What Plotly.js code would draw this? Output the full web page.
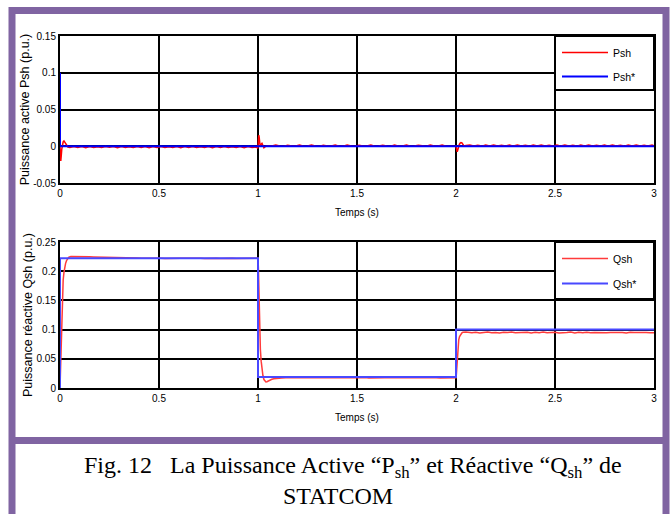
<!DOCTYPE html>
<html>
<head>
<meta charset="utf-8">
<script src="https://cdn.plot.ly/plotly-3.0.1.min.js"></script>
<style>
html,body{margin:0;padding:0;background:#fff;}
#chart{width:672px;height:514px;}
</style>
</head>
<body>
<div id="chart"></div>
<script>
// ---------- Data ----------
const xTickVals = [0, 0.5, 1, 1.5, 2, 2.5, 3];
const xTickText = ['0', '0.5', '1', '1.5', '2', '2.5', '3'];
const pTickVals = [-0.05, 0, 0.05, 0.1, 0.15];
const pTickText = ['-0.05', '0', '0.05', '0.1', '0.15'];
const qTickVals = [0, 0.05, 0.1, 0.15, 0.2, 0.25];
const qTickText = ['0', '0.05', '0.1', '0.15', '0.2', '0.25'];

// Psh* reference (blue)
const pshRefT = [0, 0, 3];
const pshRefV = [0.1, 0, 0];

// Psh measured (red)
const pshT = [
  0, 0.002, 0.004, 0.006, 0.009, 0.012, 0.016, 0.02, 0.025, 0.03, 0.035, 0.04,
  0.05, 0.07, 0.09, 0.11, 0.13, 0.15, 0.17, 0.19, 0.21, 0.23, 0.25, 0.27, 0.29, 0.31, 0.33, 0.35,
  0.37, 0.39, 0.41, 0.43, 0.45, 0.47, 0.49, 0.51, 0.53, 0.55, 0.57, 0.59, 0.61, 0.63, 0.65, 0.67,
  0.69, 0.71, 0.73, 0.75, 0.77, 0.79, 0.81, 0.83, 0.85, 0.87, 0.89, 0.91, 0.93, 0.95, 0.97, 0.99,
  0.995, 0.998, 1.0, 1.002, 1.004, 1.006, 1.009, 1.012, 1.016, 1.02, 1.025, 1.03, 1.035, 1.04, 1.05,
  1.07, 1.09, 1.11, 1.13, 1.15, 1.17, 1.19, 1.21, 1.23, 1.25, 1.27, 1.29, 1.31, 1.33, 1.35, 1.37,
  1.39, 1.41, 1.43, 1.45, 1.47, 1.49, 1.51, 1.53, 1.55, 1.57, 1.59, 1.61, 1.63, 1.65, 1.67, 1.69,
  1.71, 1.73, 1.75, 1.77, 1.79, 1.81, 1.83, 1.85, 1.87, 1.89, 1.91, 1.93, 1.95, 1.97, 1.99,
  1.995, 2.0, 2.003, 2.006, 2.009, 2.012, 2.016, 2.02, 2.025, 2.03, 2.035, 2.04, 2.05,
  2.07, 2.09, 2.11, 2.13, 2.15, 2.17, 2.19, 2.21, 2.23, 2.25, 2.27, 2.29, 2.31, 2.33, 2.35, 2.37,
  2.39, 2.41, 2.43, 2.45, 2.47, 2.49, 2.51, 2.53, 2.55, 2.57, 2.59, 2.61, 2.63, 2.65, 2.67, 2.69,
  2.71, 2.73, 2.75, 2.77, 2.79, 2.81, 2.83, 2.85, 2.87, 2.89, 2.91, 2.93, 2.95, 2.97, 2.99, 3.0
];
const pshV = [
  0, -0.012, -0.02, -0.014, -0.004, 0.003, 0.006, 0.0072, 0.005, 0.002, 0.0, -0.001,
  -0.0018, -0.0004, -0.0017, -0.0005, -0.0019, -0.0003, -0.0016, -0.0006, -0.0018, -0.0004, -0.0015, -0.0005, -0.0019, -0.0004, -0.0017, -0.0006,
  -0.0018, -0.0003, -0.0016, -0.0005, -0.0019, -0.0004, -0.0017, -0.0005, -0.0018, -0.0006, -0.0016, -0.0004, -0.0019, -0.0005, -0.0017, -0.0003,
  -0.0018, -0.0006, -0.0016, -0.0004, -0.0019, -0.0005, -0.0017, -0.0004, -0.0018, -0.0006, -0.0016, -0.0003, -0.0019, -0.0005, -0.0017, -0.0012,
  -0.001, -0.003, -0.001, 0.008, 0.015, 0.012, 0.004, 0.0, 0.003, 0.004, 0.001, -0.002, -0.001, 0.0, 0.0005,
  0.0002, 0.0016, 0.0003, 0.0001, 0.0015, 0.0002, 0.0003, 0.0017, 0.0001, 0.0002, 0.0016, 0.0003, 0.0001, 0.0015, 0.0002, 0.0003,
  0.0016, 0.0001, 0.0002, 0.0017, 0.0003, 0.0001, 0.0015, 0.0002, 0.0003, 0.0016, 0.0001, 0.0002, 0.0015, 0.0003, 0.0001, 0.0017,
  0.0002, 0.0003, 0.0016, 0.0001, 0.0002, 0.0015, 0.0003, 0.0001, 0.0016, 0.0002, 0.0003, 0.0017, 0.0001, 0.0002, 0.0004,
  0.0003, 0.0, -0.004, -0.0077, -0.005, -0.001, 0.002, 0.004, 0.005, 0.0045, 0.002, 0.0005, 0.001,
  0.0016, 0.0003, 0.0015, 0.0002, 0.0017, 0.0004, 0.0016, 0.0002, 0.0015, 0.0003, 0.0017, 0.0002, 0.0016, 0.0004, 0.0015, 0.0002,
  0.0017, 0.0003, 0.0016, 0.0002, 0.0015, 0.0004, 0.0017, 0.0002, 0.0016, 0.0003, 0.0015, 0.0002, 0.0017, 0.0004, 0.0016, 0.0002,
  0.0015, 0.0003, 0.0017, 0.0002, 0.0016, 0.0004, 0.0015, 0.0002, 0.0017, 0.0003, 0.0016, 0.0002, 0.0015, 0.0004, 0.0016, 0.0008
];

// Qsh* reference (blue)
const qshRefT = [0, 0, 1, 1, 2, 2, 3];
const qshRefV = [0, 0.222, 0.222, 0.019, 0.019, 0.1, 0.1];

// Qsh measured (red)
const qshT = [
  0, 0.002, 0.004, 0.006, 0.008, 0.01, 0.013, 0.016, 0.02, 0.024, 0.028, 0.033, 0.038, 0.045, 0.055,
  0.07, 0.09, 0.11, 0.13, 0.15, 0.17, 0.19, 0.21, 0.23, 0.25, 0.27, 0.29, 0.31, 0.33, 0.35, 0.37,
  0.39, 0.41, 0.43, 0.45, 0.47, 0.49, 0.51, 0.53, 0.55, 0.57, 0.59, 0.61, 0.63, 0.65, 0.67, 0.69,
  0.71, 0.73, 0.75, 0.77, 0.79, 0.81, 0.83, 0.85, 0.87, 0.89, 0.91, 0.93, 0.95, 0.97, 0.99,
  1.0, 1.002, 1.004, 1.006, 1.009, 1.012, 1.016, 1.02, 1.025, 1.03, 1.035, 1.04, 1.045, 1.05, 1.06, 1.07, 1.08, 1.1, 1.12,
  1.14, 1.16, 1.18, 1.2, 1.22, 1.24, 1.26, 1.28, 1.3, 1.32, 1.34, 1.36, 1.38, 1.4, 1.42, 1.44,
  1.46, 1.48, 1.5, 1.52, 1.54, 1.56, 1.58, 1.6, 1.62, 1.64, 1.66, 1.68, 1.7, 1.72, 1.74, 1.76,
  1.78, 1.8, 1.82, 1.84, 1.86, 1.88, 1.9, 1.92, 1.94, 1.96, 1.98,
  2.0, 2.002, 2.004, 2.006, 2.008, 2.011, 2.014, 2.018, 2.022, 2.026, 2.03, 2.035, 2.04, 2.05, 2.06,
  2.08, 2.1, 2.12, 2.14, 2.16, 2.18, 2.2, 2.22, 2.24, 2.26, 2.28, 2.3, 2.32, 2.34, 2.36, 2.38,
  2.4, 2.42, 2.44, 2.46, 2.48, 2.5, 2.52, 2.54, 2.56, 2.58, 2.6, 2.62, 2.64, 2.66, 2.68, 2.7,
  2.72, 2.74, 2.76, 2.78, 2.8, 2.82, 2.84, 2.86, 2.88, 2.9, 2.92, 2.94, 2.96, 2.98, 3.0
];
const qshV = [
  0, 0.03, 0.06, 0.09, 0.12, 0.148, 0.17, 0.185, 0.198, 0.207, 0.213, 0.218, 0.221, 0.224, 0.2252,
  0.2253, 0.2251, 0.2254, 0.2249, 0.2247, 0.2245, 0.2242, 0.224, 0.2238, 0.2236, 0.2233, 0.2231, 0.2229, 0.2227, 0.2226, 0.2222,
  0.2224, 0.2221, 0.2223, 0.2219, 0.2222, 0.222, 0.2223, 0.2218, 0.2221, 0.2222, 0.2219, 0.2222, 0.222, 0.2223, 0.2218, 0.2221,
  0.2222, 0.2219, 0.2223, 0.222, 0.2221, 0.2218, 0.2222, 0.222, 0.2223, 0.2219, 0.2221, 0.2222, 0.222, 0.2221, 0.222,
  0.222, 0.205, 0.165, 0.12, 0.088, 0.066, 0.046, 0.032, 0.021, 0.0145, 0.0115, 0.0105, 0.0108, 0.0118, 0.0135, 0.015, 0.016, 0.017, 0.0172,
  0.0174, 0.0176, 0.0173, 0.0177, 0.0175, 0.0172, 0.0176, 0.0174, 0.0178, 0.0173, 0.0175, 0.0177, 0.0172, 0.0176, 0.0174, 0.0175,
  0.0177, 0.0173, 0.0176, 0.0174, 0.0178, 0.0172, 0.0175, 0.0176, 0.0173, 0.0177, 0.0174, 0.0175, 0.0172, 0.0176, 0.0174, 0.0177,
  0.0173, 0.0175, 0.0176, 0.0172, 0.0177, 0.0174, 0.0175, 0.0173, 0.0176, 0.0175, 0.0175,
  0.0175, 0.024, 0.038, 0.053, 0.065, 0.076, 0.083, 0.088, 0.091, 0.093, 0.0945, 0.0955, 0.096, 0.0958, 0.0955,
  0.0948, 0.0956, 0.0944, 0.0952, 0.0958, 0.0946, 0.0951, 0.0943, 0.0955, 0.0949, 0.0957, 0.0945, 0.0952, 0.0948, 0.0956, 0.0944,
  0.0953, 0.0947, 0.0958, 0.0945, 0.0951, 0.0955, 0.0943, 0.0952, 0.0949, 0.0957, 0.0944, 0.0953, 0.0947, 0.0955, 0.0946, 0.0952,
  0.0948, 0.0956, 0.0944, 0.0951, 0.0954, 0.0946, 0.0952, 0.0943, 0.0955, 0.0949, 0.0953, 0.0945, 0.0951, 0.0948, 0.0947
];

const caption1 = 'Fig. 12\u00A0\u00A0 La Puissance Active \u201CP<sub>sh</sub>\u201D et R\u00E9active \u201CQ<sub>sh</sub>\u201D de';
const caption2 = 'STATCOM';

// ---------- Layout helpers ----------
const W = 672, H = 514, ML = 60, MR = 18, MT = 36, MB = 126;
const PW = W - ML - MR, PH = H - MT - MB;
const px = x => (x - ML) / PW;
const py = y => (H - MB - y) / PH;

const sans = '"Liberation Sans", Arial, sans-serif';
const tickFont = {family: sans, size: 10, color: '#000'};
const titleFont = {family: sans, size: 12.5, color: '#000'};
const xTitleFont = {family: sans, size: 10, color: '#000'};
const legFont = {family: sans, size: 10.5, color: '#000'};

function xAxis(anchor) {
  return {
    anchor: anchor, range: [0, 3], tickmode: 'array', tickvals: xTickVals, ticktext: xTickText,
    showgrid: true, gridcolor: '#000', gridwidth: 2, zeroline: false,
    showline: true, linecolor: '#000', linewidth: 2, mirror: true, ticks: '',
    tickfont: tickFont, layer: 'below traces',
    title: {text: 'Temps (s)', font: xTitleFont, standoff: 11}
  };
}
function yAxis(anchor, domain, range, tv, tt, title) {
  return {
    anchor: anchor, domain: domain, range: range, tickmode: 'array', tickvals: tv, ticktext: tt,
    showgrid: true, gridcolor: '#000', gridwidth: 2, zeroline: false,
    showline: true, linecolor: '#000', linewidth: 2, mirror: true, ticks: '',
    tickfont: tickFont, layer: 'below traces',
    title: {text: title, font: titleFont, standoff: 1}
  };
}

const traces = [
  {x: pshT, y: pshV, xaxis: 'x', yaxis: 'y', mode: 'lines', name: 'Psh', legend: 'legend', legendgroup: 'a',
   line: {color: '#ff0000', width: 1.5}},
  {x: pshRefT, y: pshRefV, xaxis: 'x', yaxis: 'y', mode: 'lines', name: 'Psh*', legend: 'legend', legendgroup: 'b',
   line: {color: '#0000ff', width: 2}},
  {x: qshT, y: qshV, xaxis: 'x2', yaxis: 'y2', mode: 'lines', name: 'Qsh', legend: 'legend2', legendgroup: 'c',
   line: {color: '#ff3b3b', width: 1.5}},
  {x: qshRefT, y: qshRefV, xaxis: 'x2', yaxis: 'y2', mode: 'lines', name: 'Qsh*', legend: 'legend2', legendgroup: 'd',
   line: {color: '#4848ff', width: 2}}
];

const purple = '#8064a2';
const layout = {
  width: W, height: H,
  margin: {l: ML, r: MR, t: MT, b: MB, pad: 0},
  paper_bgcolor: '#fff', plot_bgcolor: '#fff',
  showlegend: true,
  xaxis: xAxis('y'),
  yaxis: yAxis('x', [py(183), 1], [-0.05, 0.15], pTickVals, pTickText, 'Puissance active Psh (p.u.)'),
  xaxis2: xAxis('y2'),
  yaxis2: yAxis('x2', [0, py(242)], [0, 0.25], qTickVals, qTickText, 'Puissance réactive Qsh (p.u.)'),
  legend: {x: px(557), xanchor: 'left', y: py(38), yanchor: 'top', bgcolor: 'rgba(0,0,0,0)', borderwidth: 0,
           font: legFont, itemwidth: 46, tracegroupgap: 5, traceorder: 'grouped'},
  legend2: {x: px(557), xanchor: 'left', y: py(244), yanchor: 'top', bgcolor: 'rgba(0,0,0,0)', borderwidth: 0,
           font: legFont, itemwidth: 46, tracegroupgap: 6, traceorder: 'grouped'},
  shapes: [
    // legend boxes
    {type: 'rect', xref: 'x domain', yref: 'y domain', x0: 5/6, x1: 1, y0: (183 - 90) / 147, y1: 1,
     line: {color: '#000', width: 2}, fillcolor: '#fff', layer: 'above'},
    {type: 'rect', xref: 'x2 domain', yref: 'y2 domain', x0: 5/6, x1: 1, y0: (388 - 299) / 146, y1: 1,
     line: {color: '#000', width: 2}, fillcolor: '#fff', layer: 'above'},
    // purple frame
    {type: 'rect', xref: 'paper', yref: 'paper', x0: px(12), x1: px(666), y0: py(530), y1: py(10.5),
     line: {color: purple, width: 7}, fillcolor: 'rgba(0,0,0,0)', layer: 'below'},
    {type: 'line', xref: 'paper', yref: 'paper', x0: px(12), x1: px(666), y0: py(440.5), y1: py(440.5),
     line: {color: purple, width: 7}, layer: 'below'}
  ],
  annotations: [
    {xref: 'paper', yref: 'paper', x: px(352.5), y: py(467), xanchor: 'center', yanchor: 'middle',
     text: caption1, showarrow: false, font: {family: '"Liberation Serif", "Times New Roman", serif', size: 24, color: '#000'}},
    {xref: 'paper', yref: 'paper', x: px(338), y: py(496), xanchor: 'center', yanchor: 'middle',
     text: caption2, showarrow: false, font: {family: '"Liberation Serif", "Times New Roman", serif', size: 24, color: '#000'}}
  ]
};

Plotly.newPlot('chart', traces, layout, {staticPlot: true, displayModeBar: false});
</script>
</body>
</html>
